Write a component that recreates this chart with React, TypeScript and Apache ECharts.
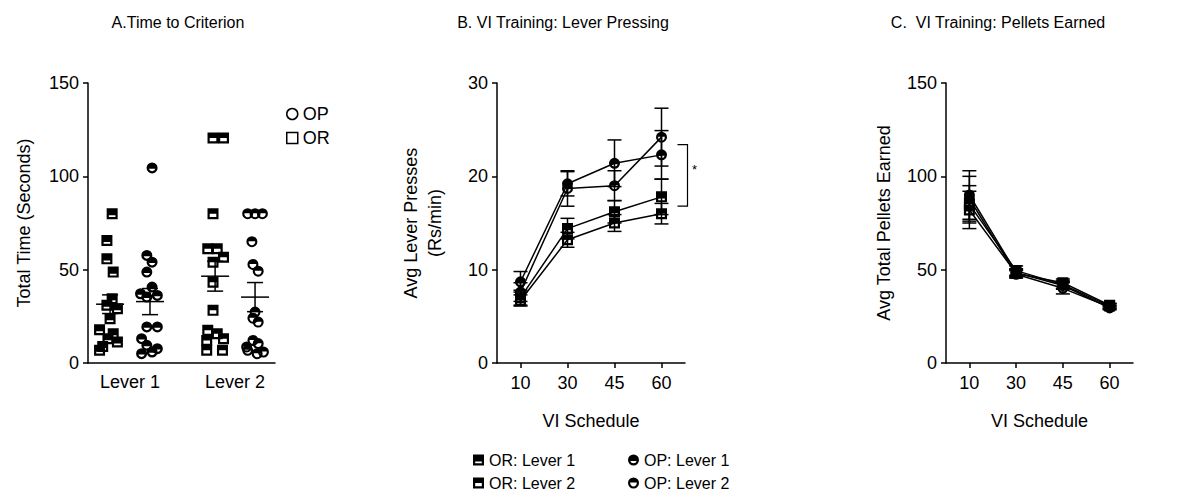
import React, { useEffect, useRef } from 'react';
import * as echarts from 'echarts';

// ---------- Panel A data ----------
const LEVERS = ['Lever 1', 'Lever 2'];
const LEVER_POS = [1, 2];
const A_OR_L1 = [80, 65.6, 55.8, 48.7, 34.4, 30.9, 29.1, 23.7, 17.8, 15.7, 13, 11.3, 8.9, 6.8];
const A_OR_L1_X = [0.83, 0.78, 0.78, 0.84, 0.83, 0.78, 0.88, 0.81, 0.71, 0.84, 0.79, 0.88, 0.74, 0.71];
const A_OP_L1 = [104.5, 57.6, 54, 48.7, 40.7, 37.1, 36.2, 35.3, 19.3, 19.3, 13, 9.5, 7.7, 5, 5.9];
const A_OP_L1_X = [1.21, 1.16, 1.21, 1.16, 1.21, 1.1, 1.26, 1.16, 1.16, 1.26, 1.11, 1.16, 1.26, 1.11, 1.21];
const A_OR_L2 = [120.6, 120.6, 80, 61.2, 61.2, 56.7, 54, 43.3, 28.2, 17.5, 15.7, 13, 12.1, 6.8, 6.8];
const A_OR_L2_X = [1.79, 1.89, 1.79, 1.74, 1.83, 1.89, 1.79, 1.79, 1.79, 1.74, 1.83, 1.89, 1.73, 1.73, 1.88];
const A_OP_L2 = [80, 80, 80, 65, 52.8, 49.2, 27.3, 24, 21.9, 12.1, 10.4, 8.6, 6.8, 5.9, 5];
const A_OP_L2_X = [2.12, 2.19, 2.26, 2.16, 2.17, 2.22, 2.19, 2.17, 2.22, 2.17, 2.22, 2.11, 2.12, 2.27, 2.21];
const A_MEAN_X = [0.81, 1.19, 1.81, 2.19];
const A_MEANS = [31.5, 32.9, 46.5, 35.3];
const A_SEMS = [5.0, 7.0, 8.0, 7.8];

// ---------- Panels B & C data ----------
const SCHEDULES = ['10', '30', '45', '60'];
const B_OR_L1 = [7.0, 14.4, 16.2, 17.8];
const B_OR_L1_SEM = [0.8, 1.1, 1.2, 1.9];
const B_OR_L2 = [6.7, 13.2, 15.0, 16.0];
const B_OR_L2_SEM = [0.6, 0.8, 0.9, 1.1];
const B_OP_L1 = [8.7, 19.2, 21.4, 22.3];
const B_OP_L1_SEM = [1.1, 1.3, 2.5, 2.6];
const B_OP_L2 = [7.6, 18.7, 19.0, 24.2];
const B_OP_L2_SEM = [1.0, 1.9, 1.6, 3.1];
const B_SIG = [16.8, 23.4];

const C_OR_L1 = [82, 48, 43, 31];
const C_OR_L1_SEM = [10, 2, 2, 1];
const C_OR_L2 = [85, 49.5, 42, 30.5];
const C_OR_L2_SEM = [10, 2.5, 2, 1.2];
const C_OP_L1 = [88, 47.5, 40, 30];
const C_OP_L1_SEM = [12, 2, 3, 1];
const C_OP_L2 = [90, 48.5, 41.5, 29.5];
const C_OP_L2_SEM = [13, 2, 2, 1];

// ---------- symbols (black shapes with a white band) ----------
const SQ_L1 = 'path://M0 0H10V10H0Z M2 6.4V8H8V6.4Z';
const SQ_L2 = 'path://M0 0H10V10H0Z M2 5V8H8V5Z';
const CI_L1 = 'path://M0 5A5 5 0 1 1 10 5A5 5 0 1 1 0 5Z M2.1 5.8A3 3 0 0 0 7.9 5.8Z';
const CI_L2 = 'path://M0 5A5 5 0 1 1 10 5A5 5 0 1 1 0 5Z M2.05 4.6A3 3 0 1 0 7.95 4.6Z';

const FONT = 'Arial, "Liberation Sans", sans-serif';
const BLACK = '#000';

const axisCommon = {
  axisLine: { show: true, lineStyle: { color: BLACK, width: 1.5 } },
  axisTick: { show: true, length: 5, lineStyle: { color: BLACK, width: 1.5 } },
  axisLabel: { color: BLACK, fontSize: 18, fontFamily: FONT },
  splitLine: { show: false },
};

const errRender = (params: any, api: any) => {
  const x = api.value(0);
  const m = api.value(1);
  const s = api.value(2);
  const top = api.coord([x, m + s]);
  const bot = api.coord([x, m - s]);
  const cx = top[0];
  const w = 7;
  const st = { stroke: BLACK, lineWidth: 1.5, fill: 'none' };
  return {
    type: 'group',
    children: [
      { type: 'line', shape: { x1: cx, y1: top[1], x2: cx, y2: bot[1] }, style: st },
      { type: 'line', shape: { x1: cx - w, y1: top[1], x2: cx + w, y2: top[1] }, style: st },
      { type: 'line', shape: { x1: cx - w, y1: bot[1], x2: cx + w, y2: bot[1] }, style: st },
    ],
  };
};

const meanRender = (params: any, api: any) => {
  const x = api.value(0);
  const m = api.value(1);
  const s = api.value(2);
  const c = api.coord([x, m]);
  const top = api.coord([x, m + s]);
  const bot = api.coord([x, m - s]);
  const st = { stroke: BLACK, lineWidth: 1.5, fill: 'none' };
  return {
    type: 'group',
    children: [
      { type: 'line', shape: { x1: c[0] - 14, y1: c[1], x2: c[0] + 14, y2: c[1] }, style: st },
      { type: 'line', shape: { x1: c[0], y1: top[1], x2: c[0], y2: bot[1] }, style: st },
      { type: 'line', shape: { x1: c[0] - 8, y1: top[1], x2: c[0] + 8, y2: top[1] }, style: st },
      { type: 'line', shape: { x1: c[0] - 8, y1: bot[1], x2: c[0] + 8, y2: bot[1] }, style: st },
    ],
  };
};

const sigRender = (params: any, api: any) => {
  const x = api.value(0);
  const lo = api.coord([x, api.value(1)]);
  const hi = api.coord([x, api.value(2)]);
  const bx = lo[0] + 26;
  return {
    type: 'group',
    children: [
      {
        type: 'polyline',
        shape: { points: [[bx - 10, hi[1]], [bx, hi[1]], [bx, lo[1]], [bx - 10, lo[1]]] },
        style: { stroke: BLACK, lineWidth: 1.2, fill: 'none' },
      },
      {
        type: 'text',
        x: bx + 7,
        y: (hi[1] + lo[1]) / 2 - 6,
        style: { text: '*', fill: BLACK, fontSize: 13, fontFamily: FONT, align: 'center', verticalAlign: 'middle' },
      },
    ],
  };
};

const pairs = (xs: number[], ys: number[]) => xs.map((x, i) => [x, ys[i]]);
const withSem = (vals: number[], sems: number[]) => vals.map((v, i) => [i, v, sems[i]]);

function lineSeries(name: string, data: number[], symbol: string, idx: number) {
  return {
    name,
    type: 'line',
    xAxisIndex: idx,
    yAxisIndex: idx,
    data,
    symbol,
    symbolSize: 11,
    symbolKeepAspect: true,
    showSymbol: true,
    z: 3,
    itemStyle: { color: BLACK, borderWidth: 0 },
    lineStyle: { color: BLACK, width: 1.5 },
  };
}

function scatterSeries(name: string, data: number[][], symbol: string) {
  return {
    name,
    type: 'scatter',
    xAxisIndex: 0,
    yAxisIndex: 0,
    data,
    symbol,
    symbolSize: 11,
    symbolKeepAspect: true,
    z: 2,
    itemStyle: { color: BLACK, opacity: 1, borderWidth: 0 },
  };
}

function errSeries(name: string, vals: number[], sems: number[], idx: number) {
  return {
    name,
    type: 'custom',
    xAxisIndex: idx,
    yAxisIndex: idx,
    z: 1,
    renderItem: errRender,
    data: withSem(vals, sems),
  };
}

const legendText = { color: BLACK, fontSize: 16, fontFamily: FONT };

function bLegend(name: string, icon: string, left: number, top: number) {
  return {
    data: [{ name, icon }],
    left,
    top,
    orient: 'horizontal',
    itemWidth: 11,
    itemHeight: 11,
    itemGap: 5,
    selectedMode: false,
    textStyle: legendText,
    itemStyle: { color: BLACK, borderWidth: 0 },
  };
}

const titleStyle = { fontSize: 16, fontWeight: 'normal', color: BLACK, fontFamily: FONT };

export default function App() {
  const ref = useRef<HTMLDivElement>(null);
  useEffect(() => {
    document.body.style.margin = '0';
    const chart = echarts.init(ref.current!, null, { renderer: 'svg' });
    const option: any = {
      animation: false,
      backgroundColor: '#fff',
      textStyle: { fontFamily: FONT },
      title: [
        { text: 'A.Time to Criterion', left: 173, top: 9, textAlign: 'center', textStyle: titleStyle },
        { text: 'B. VI Training: Lever Pressing', left: 558, top: 9, textAlign: 'center', textStyle: titleStyle },
        { text: 'C.  VI Training: Pellets Earned', left: 993, top: 9, textAlign: 'center', textStyle: titleStyle },
      ],
      legend: [
        {
          data: [
            { name: 'OP', icon: 'circle', itemStyle: { color: '#fff', borderColor: BLACK, borderWidth: 1.5 } },
            { name: 'OR', icon: 'rect', itemStyle: { color: '#fff', borderColor: BLACK, borderWidth: 1.5 } },
          ],
          orient: 'vertical',
          left: 281,
          top: 100,
          itemWidth: 11,
          itemHeight: 11,
          itemGap: 6,
          selectedMode: false,
          textStyle: { color: BLACK, fontSize: 18, fontFamily: FONT },
        },
        bLegend('OR: Lever 1', SQ_L1, 468, 447),
        bLegend('OP: Lever 1', CI_L1, 623, 447),
        bLegend('OR: Lever 2', SQ_L2, 468, 470),
        bLegend('OP: Lever 2', CI_L2, 623, 470),
      ],
      grid: [
        { left: 88, top: 83, width: 187, height: 280 },
        { left: 497, top: 83, width: 188, height: 280 },
        { left: 946, top: 83, width: 187, height: 280 },
      ],
      xAxis: [
        {
          ...axisCommon,
          gridIndex: 0,
          type: 'value',
          min: 0.6,
          max: 2.38,
          axisTick: { show: false },
          axisLabel: {
            ...axisCommon.axisLabel,
            margin: 10,
            customValues: LEVER_POS,
            formatter: (v: number) => LEVERS[LEVER_POS.indexOf(Math.round(v))] ?? '',
          },
        },
        {
          ...axisCommon,
          gridIndex: 1,
          type: 'category',
          data: SCHEDULES,
          boundaryGap: true,
          axisTick: { ...axisCommon.axisTick, alignWithLabel: true },
          axisLabel: { ...axisCommon.axisLabel, margin: 11 },
          name: 'VI Schedule',
          nameLocation: 'middle',
          nameGap: 49,
          nameTextStyle: { color: BLACK, fontSize: 18, fontFamily: FONT },
        },
        {
          ...axisCommon,
          gridIndex: 2,
          type: 'category',
          data: SCHEDULES,
          boundaryGap: true,
          axisTick: { ...axisCommon.axisTick, alignWithLabel: true },
          axisLabel: { ...axisCommon.axisLabel, margin: 11 },
          name: 'VI Schedule',
          nameLocation: 'middle',
          nameGap: 49,
          nameTextStyle: { color: BLACK, fontSize: 18, fontFamily: FONT },
        },
      ],
      yAxis: [
        {
          ...axisCommon,
          gridIndex: 0,
          type: 'value',
          min: 0,
          max: 150,
          interval: 50,
          axisLabel: { ...axisCommon.axisLabel, margin: 9 },
          name: 'Total Time (Seconds)',
          nameLocation: 'middle',
          nameGap: 55,
          nameTextStyle: { color: BLACK, fontSize: 18, fontFamily: FONT },
        },
        {
          ...axisCommon,
          gridIndex: 1,
          type: 'value',
          min: 0,
          max: 30,
          interval: 10,
          axisLabel: { ...axisCommon.axisLabel, margin: 9 },
          name: 'Avg Lever Presses\n(Rs/min)',
          nameLocation: 'middle',
          nameGap: 50,
          nameTextStyle: { color: BLACK, fontSize: 18, fontFamily: FONT, lineHeight: 24 },
        },
        {
          ...axisCommon,
          gridIndex: 2,
          type: 'value',
          min: 0,
          max: 150,
          interval: 50,
          axisLabel: { ...axisCommon.axisLabel, margin: 9 },
          name: 'Avg Total Pellets Earned',
          nameLocation: 'middle',
          nameGap: 53,
          nameTextStyle: { color: BLACK, fontSize: 18, fontFamily: FONT },
        },
      ],
      series: [
        // Panel A
        scatterSeries('OR', pairs(A_OR_L1_X, A_OR_L1), SQ_L1),
        scatterSeries('OP', pairs(A_OP_L1_X, A_OP_L1), CI_L1),
        scatterSeries('OR', pairs(A_OR_L2_X, A_OR_L2), SQ_L2),
        scatterSeries('OP', pairs(A_OP_L2_X, A_OP_L2), CI_L2),
        {
          name: 'A mean',
          type: 'custom',
          xAxisIndex: 0,
          yAxisIndex: 0,
          z: 4,
          renderItem: meanRender,
          data: A_MEAN_X.map((x, i) => [x, A_MEANS[i], A_SEMS[i]]),
        },
        // Panel B
        errSeries('B err OR1', B_OR_L1, B_OR_L1_SEM, 1),
        errSeries('B err OR2', B_OR_L2, B_OR_L2_SEM, 1),
        errSeries('B err OP1', B_OP_L1, B_OP_L1_SEM, 1),
        errSeries('B err OP2', B_OP_L2, B_OP_L2_SEM, 1),
        lineSeries('OR: Lever 1', B_OR_L1, SQ_L1, 1),
        lineSeries('OR: Lever 2', B_OR_L2, SQ_L2, 1),
        lineSeries('OP: Lever 1', B_OP_L1, CI_L1, 1),
        lineSeries('OP: Lever 2', B_OP_L2, CI_L2, 1),
        {
          name: 'B sig',
          type: 'custom',
          xAxisIndex: 1,
          yAxisIndex: 1,
          clip: false,
          renderItem: sigRender,
          data: [[SCHEDULES.length - 1, B_SIG[0], B_SIG[1]]],
        },
        // Panel C
        errSeries('C err OR1', C_OR_L1, C_OR_L1_SEM, 2),
        errSeries('C err OR2', C_OR_L2, C_OR_L2_SEM, 2),
        errSeries('C err OP1', C_OP_L1, C_OP_L1_SEM, 2),
        errSeries('C err OP2', C_OP_L2, C_OP_L2_SEM, 2),
        lineSeries('OR: Lever 1', C_OR_L1, SQ_L1, 2),
        lineSeries('OR: Lever 2', C_OR_L2, SQ_L2, 2),
        lineSeries('OP: Lever 1', C_OP_L1, CI_L1, 2),
        lineSeries('OP: Lever 2', C_OP_L2, CI_L2, 2),
      ],
    };
    chart.setOption(option);
    return () => chart.dispose();
  }, []);
  return <div ref={ref} style={{ width: 1186, height: 497 }} />;
}
